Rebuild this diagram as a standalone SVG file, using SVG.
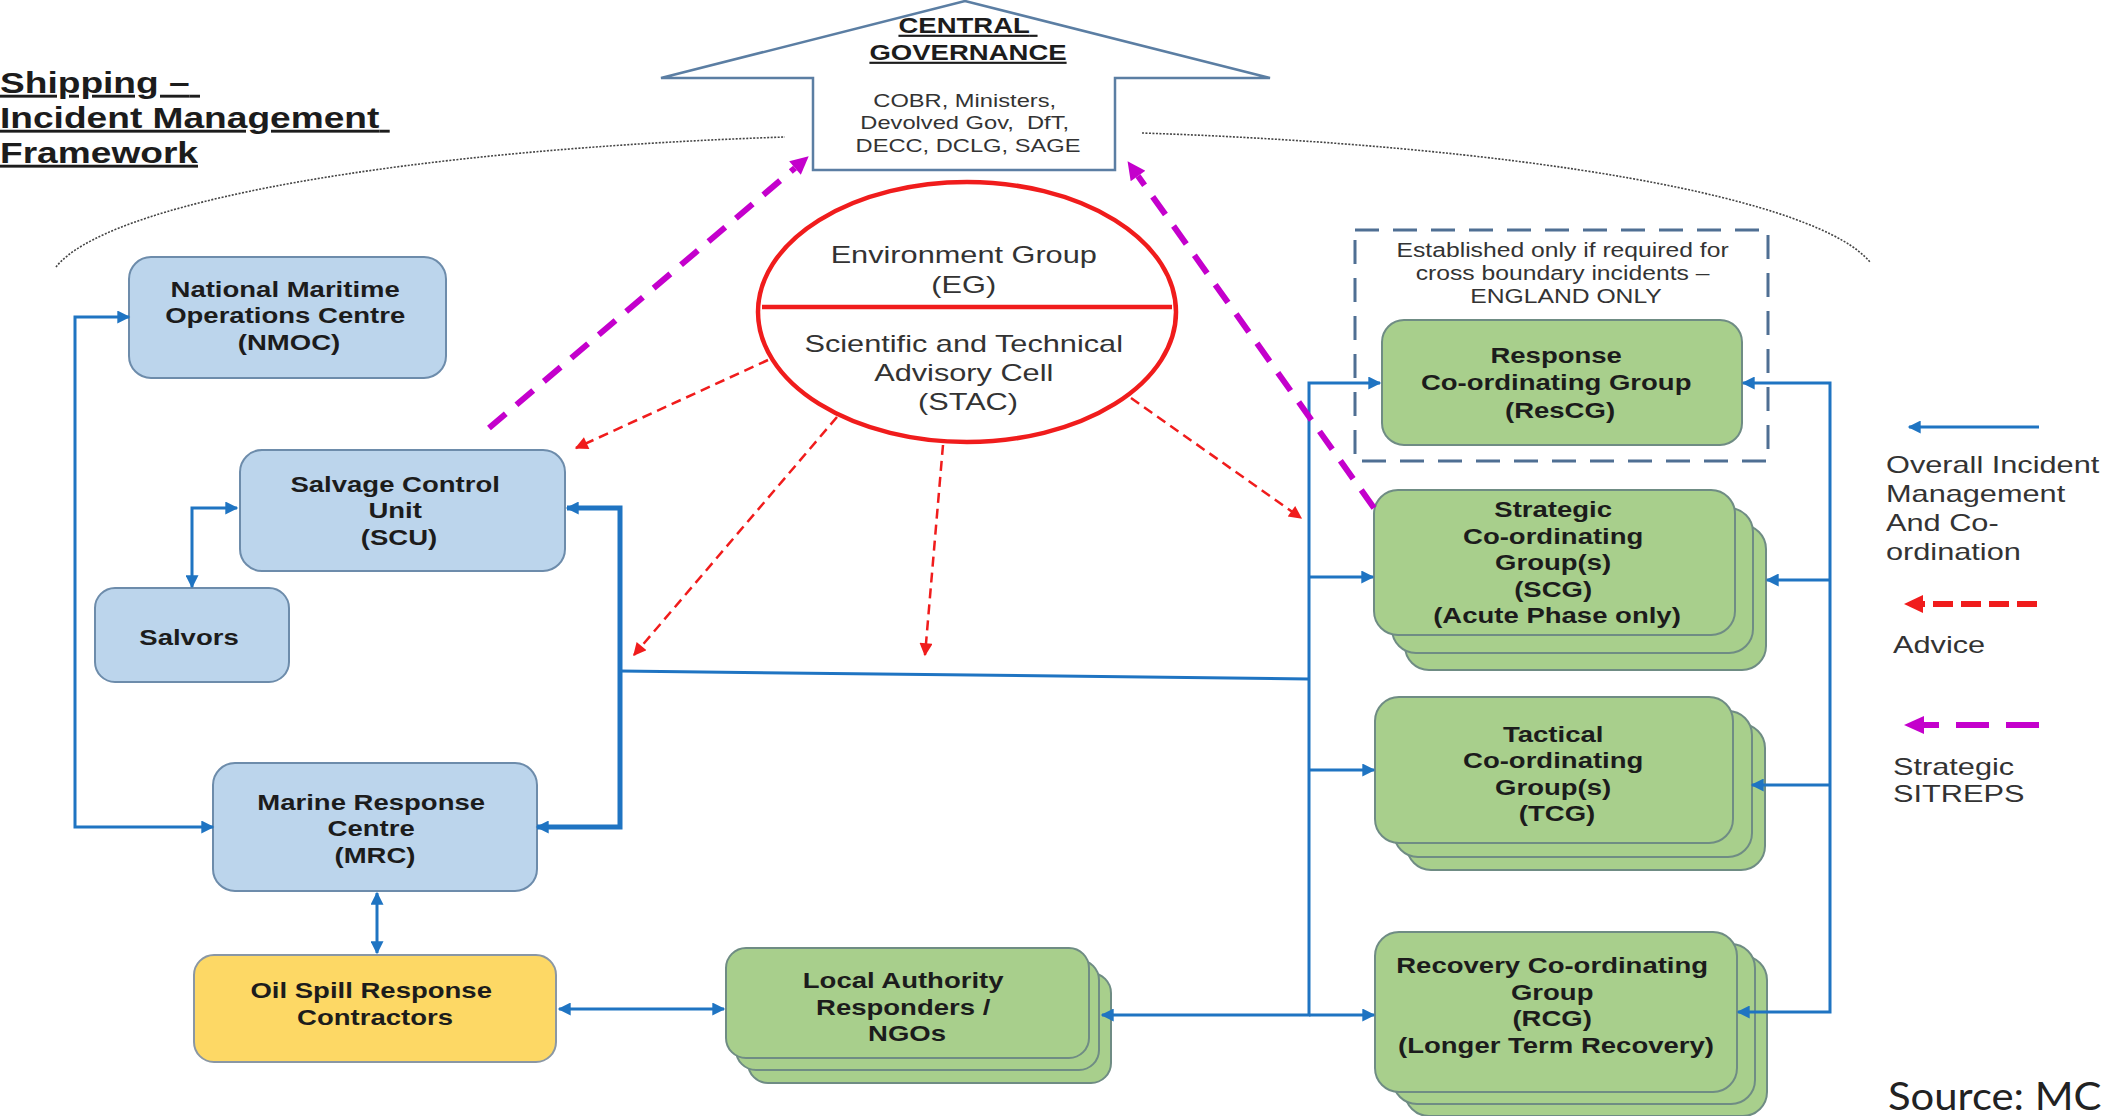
<svg xmlns="http://www.w3.org/2000/svg" width="2102" height="1116" viewBox="0 0 2102 1116">
  <defs>
    <style>
      .t { font-family: "Liberation Sans", Arial, sans-serif; fill: #1c1c1c; }
      .b { font-weight: bold; font-size: 21.5px; text-anchor: middle; }
      .r { font-weight: normal; font-size: 24px; text-anchor: middle; fill: #333; }
      .note { font-weight: normal; font-size: 19.3px; text-anchor: middle; fill: #333; }
      .gov { font-weight: normal; font-size: 18.5px; text-anchor: middle; fill: #333; }
      .govh { font-weight: bold; font-size: 21.5px; text-anchor: middle; text-decoration: underline; }
      .title { font-weight: bold; font-size: 29px; text-decoration: underline; }
      .leg { font-weight: normal; font-size: 24px; fill: #333; }
      .blue { fill: #bcd5ec; stroke: #6d8cab; stroke-width: 2; }
      .green { fill: #a8cf8c; stroke: #6f8c84; stroke-width: 2; }
      .yellow { fill: #fdd865; stroke: #8a97a4; stroke-width: 2; }
      .link { fill: none; stroke: #1f74c2; stroke-width: 3; }
      .thick { stroke-width: 5; }
      .advice { fill: none; stroke: #f01c1c; stroke-width: 2.5; stroke-dasharray: 10 6; }
      .sitrep { fill: none; stroke: #c400cc; stroke-width: 6; stroke-dasharray: 22 14; }
      .arc { fill: none; stroke: #444; stroke-width: 1.6; stroke-dasharray: 2 1.5; }
    </style>
    <marker id="ah-blue" viewBox="0 0 10 10" refX="9" refY="5" markerWidth="15" markerHeight="13" markerUnits="userSpaceOnUse" orient="auto-start-reverse">
      <path d="M0,0 L10,5 L0,10 z" fill="#1f74c2"/>
    </marker>
    <marker id="ah-red" viewBox="0 0 10 10" refX="9" refY="5" markerWidth="15" markerHeight="13" markerUnits="userSpaceOnUse" orient="auto">
      <path d="M0,0 L10,5 L0,10 z" fill="#f01c1c"/>
    </marker>
    <marker id="ah-mag" viewBox="0 0 10 10" refX="0" refY="5" markerWidth="20" markerHeight="18" markerUnits="userSpaceOnUse" orient="auto">
      <path d="M0,0 L10,5 L0,10 z" fill="#c400cc"/>
    </marker>
  </defs>

  <rect width="2102" height="1116" fill="#ffffff"/>

  <!-- heading -->
  <g id="title">
    <text class="t title" transform="matrix(1.28 0 0 1 0 0)">
      <tspan x="0" y="93">Shipping –</tspan>
      <tspan x="0" y="128">Incident Management</tspan>
      <tspan x="0" y="163">Framework</tspan>
    </text>
  </g>

  <!-- dotted boundary arc -->
  <g id="boundary">
    <path class="arc" d="M 56 267 A 915 153 0 0 1 785 137"/>
    <path class="arc" d="M 1142 133 A 915 153 0 0 1 1870 262"/>
  </g>

  <!-- central governance block arrow -->
  <g id="central-governance">
    <path d="M 965 1 L 1270 78 L 1115 78 L 1115 170 L 813 170 L 813 78 L 661 78 Z" fill="#ffffff" stroke="#5b7ea3" stroke-width="2.5" stroke-linejoin="miter"/>
    <text class="t govh" transform="matrix(1.28 0 0 1 968 0)">
      <tspan x="0" y="33">CENTRAL</tspan>
      <tspan x="0" y="60">GOVERNANCE</tspan>
    </text>
    <text class="t gov" transform="matrix(1.28 0 0 1 968 0)">
      <tspan x="0" y="107">COBR, Ministers,</tspan>
      <tspan x="0" y="129" xml:space="preserve">Devolved Gov,  DfT,</tspan>
      <tspan x="0" y="152">DECC, DCLG, SAGE</tspan>
    </text>
  </g>

  <!-- environment group / STAC -->
  <g id="eg-stac">
    <ellipse cx="967" cy="312" rx="209" ry="130" fill="#ffffff" stroke="#f01c1c" stroke-width="4.5"/>
    <line x1="762" y1="307" x2="1172" y2="307" stroke="#f01c1c" stroke-width="4.5"/>
    <text class="t r" transform="matrix(1.28 0 0 1 968 0)">
      <tspan x="0" y="263">Environment Group</tspan>
      <tspan x="0" y="293">(EG)</tspan>
      <tspan x="0" y="352">Scientific and Technical</tspan>
      <tspan x="0" y="381">Advisory Cell</tspan>
      <tspan x="0" y="410">(STAC)</tspan>
    </text>
  </g>

  <!-- left hand nodes -->
  <g id="nmoc">
    <rect class="blue" x="129" y="257" width="317" height="121" rx="22"/>
    <text class="t b" transform="matrix(1.28 0 0 1 289 0)">
      <tspan x="0" y="297">National Maritime</tspan>
      <tspan x="0" y="323">Operations Centre</tspan>
      <tspan x="0" y="350">(NMOC)</tspan>
    </text>
  </g>

  <g id="scu">
    <rect class="blue" x="240" y="450" width="325" height="121" rx="22"/>
    <text class="t b" transform="matrix(1.28 0 0 1 399 0)">
      <tspan x="0" y="492">Salvage Control</tspan>
      <tspan x="0" y="518">Unit</tspan>
      <tspan x="0" y="545">(SCU)</tspan>
    </text>
  </g>

  <g id="salvors">
    <rect class="blue" x="95" y="588" width="194" height="94" rx="20"/>
    <text class="t b" transform="matrix(1.28 0 0 1 189 0)">
      <tspan x="0" y="645">Salvors</tspan>
    </text>
  </g>

  <g id="mrc">
    <rect class="blue" x="213" y="763" width="324" height="128" rx="22"/>
    <text class="t b" transform="matrix(1.28 0 0 1 375 0)">
      <tspan x="0" y="810">Marine Response</tspan>
      <tspan x="0" y="836">Centre</tspan>
      <tspan x="0" y="863">(MRC)</tspan>
    </text>
  </g>

  <g id="osrc">
    <rect class="yellow" x="194" y="955" width="362" height="107" rx="20"/>
    <text class="t b" transform="matrix(1.28 0 0 1 375 0)">
      <tspan x="0" y="998">Oil Spill Response</tspan>
      <tspan x="0" y="1025">Contractors</tspan>
    </text>
  </g>

  <g id="local-authority">
    <rect class="green" x="748" y="973" width="363" height="110" rx="20"/>
    <rect class="green" x="736" y="960" width="363" height="110" rx="20"/>
    <rect class="green" x="726" y="948" width="363" height="110" rx="20"/>
    <text class="t b" transform="matrix(1.28 0 0 1 907 0)">
      <tspan x="0" y="988">Local Authority</tspan>
      <tspan x="0" y="1015">Responders /</tspan>
      <tspan x="0" y="1041">NGOs</tspan>
    </text>
  </g>

  <!-- right hand coordinating groups -->
  <g id="rescg">
    <rect x="1355" y="230" width="413" height="231" fill="none" stroke="#4f6f93" stroke-width="3" stroke-dasharray="24 14"/>
    <text class="t note" transform="matrix(1.28 0 0 1 1566 0)">
      <tspan x="0" y="257">Established only if required for</tspan>
      <tspan x="0" y="280">cross boundary incidents –</tspan>
      <tspan x="0" y="303">ENGLAND ONLY</tspan>
    </text>
    <rect class="green" x="1382" y="320" width="360" height="125" rx="22"/>
    <text class="t b" transform="matrix(1.28 0 0 1 1560 0)">
      <tspan x="0" y="363">Response</tspan>
      <tspan x="0" y="390">Co-ordinating Group</tspan>
      <tspan x="0" y="418">(ResCG)</tspan>
    </text>
  </g>

  <g id="scg">
    <rect class="green" x="1405" y="525" width="361" height="145" rx="24"/>
    <rect class="green" x="1392" y="508" width="361" height="145" rx="24"/>
    <rect class="green" x="1374" y="490" width="361" height="145" rx="24"/>
    <text class="t b" transform="matrix(1.28 0 0 1 1557 0)">
      <tspan x="0" y="517">Strategic</tspan>
      <tspan x="0" y="544">Co-ordinating</tspan>
      <tspan x="0" y="570">Group(s)</tspan>
      <tspan x="0" y="597">(SCG)</tspan>
      <tspan x="0" y="623">(Acute Phase only)</tspan>
    </text>
  </g>

  <g id="tcg">
    <rect class="green" x="1407" y="724" width="358" height="146" rx="24"/>
    <rect class="green" x="1394" y="711" width="358" height="146" rx="24"/>
    <rect class="green" x="1375" y="697" width="358" height="146" rx="24"/>
    <text class="t b" transform="matrix(1.28 0 0 1 1557 0)">
      <tspan x="0" y="742">Tactical</tspan>
      <tspan x="0" y="768">Co-ordinating</tspan>
      <tspan x="0" y="795">Group(s)</tspan>
      <tspan x="0" y="821">(TCG)</tspan>
    </text>
  </g>

  <g id="rcg">
    <rect class="green" x="1405" y="956" width="362" height="160" rx="24"/>
    <rect class="green" x="1393" y="944" width="362" height="160" rx="24"/>
    <rect class="green" x="1375" y="932" width="362" height="160" rx="24"/>
    <text class="t b" transform="matrix(1.28 0 0 1 1556 0)">
      <tspan x="0" y="973">Recovery Co-ordinating</tspan>
      <tspan x="0" y="1000">Group</tspan>
      <tspan x="0" y="1026">(RCG)</tspan>
      <tspan x="0" y="1053">(Longer Term Recovery)</tspan>
    </text>
  </g>

  <!-- connectors -->
  <g id="connectors">
    <!-- overall incident management and co-ordination -->
    <path class="link" d="M 129 317 H 75 V 827 H 213" marker-start="url(#ah-blue)" marker-end="url(#ah-blue)"/>
    <path class="link" d="M 237 508 H 192 V 587" marker-start="url(#ah-blue)" marker-end="url(#ah-blue)"/>
    <path class="link thick" d="M 567 508 H 620 V 827 H 537" marker-start="url(#ah-blue)" marker-end="url(#ah-blue)"/>
    <path class="link" d="M 377 893 V 953" marker-start="url(#ah-blue)" marker-end="url(#ah-blue)"/>
    <path class="link" d="M 559 1009 H 724" marker-start="url(#ah-blue)" marker-end="url(#ah-blue)"/>
    <path class="link" d="M 620 671 L 1309 679"/>
    <path class="link" d="M 1380 383 H 1309 V 1015 H 1102" marker-start="url(#ah-blue)" marker-end="url(#ah-blue)"/>
    <path class="link" d="M 1309 577 H 1373" marker-end="url(#ah-blue)"/>
    <path class="link" d="M 1309 770 H 1374" marker-end="url(#ah-blue)"/>
    <path class="link" d="M 1309 1015 H 1374" marker-end="url(#ah-blue)"/>
    <path class="link" d="M 1743 383 H 1830 V 1012 H 1738" marker-start="url(#ah-blue)" marker-end="url(#ah-blue)"/>
    <path class="link" d="M 1830 580 H 1767" marker-end="url(#ah-blue)"/>
    <path class="link" d="M 1830 785 H 1752" marker-end="url(#ah-blue)"/>

    <!-- advice from STAC -->
    <path class="advice" d="M 768 360 L 576 448" marker-end="url(#ah-red)"/>
    <path class="advice" d="M 837 417 L 634 655" marker-end="url(#ah-red)"/>
    <path class="advice" d="M 943 445 L 925 655" marker-end="url(#ah-red)"/>
    <path class="advice" d="M 1131 398 L 1301 518" marker-end="url(#ah-red)"/>

    <!-- strategic sitreps -->
    <path class="sitrep" d="M 489 428 L 795 168" marker-end="url(#ah-mag)"/>
    <path class="sitrep" d="M 1374 508 L 1138 176" marker-end="url(#ah-mag)"/>
  </g>

  <!-- key -->
  <g id="legend">
    <path class="link" d="M 2039 427 H 1909" marker-end="url(#ah-blue)"/>
    <text class="t leg" transform="matrix(1.28 0 0 1 1886 0)">
      <tspan x="0" y="473">Overall Incident</tspan>
      <tspan x="0" y="502">Management</tspan>
      <tspan x="0" y="531">And Co-</tspan>
      <tspan x="0" y="560">ordination</tspan>
    </text>
    <path d="M 2037 604 H 1920" fill="none" stroke="#f01c1c" stroke-width="6" stroke-dasharray="20 8"/>
    <path d="M 1904 604 L 1923 595 L 1923 613 Z" fill="#f01c1c"/>
    <text class="t leg" transform="matrix(1.28 0 0 1 1893 0)">
      <tspan x="0" y="653">Advice</tspan>
    </text>
    <path d="M 2039 725 H 1920" fill="none" stroke="#c400cc" stroke-width="6" stroke-dasharray="33 17"/>
    <path d="M 1904 725 L 1924 716 L 1924 734 Z" fill="#c400cc"/>
    <text class="t leg" transform="matrix(1.28 0 0 1 1893 0)">
      <tspan x="0" y="775">Strategic</tspan>
      <tspan x="0" y="802">SITREPS</tspan>
    </text>
  </g>

  <g id="source">
    <text transform="matrix(1.1 0 0 1 1888 0)" x="0" y="1110" font-family="Lato, 'Open Sans', sans-serif" font-size="38" fill="#222">Source: MC</text>
  </g>
</svg>
